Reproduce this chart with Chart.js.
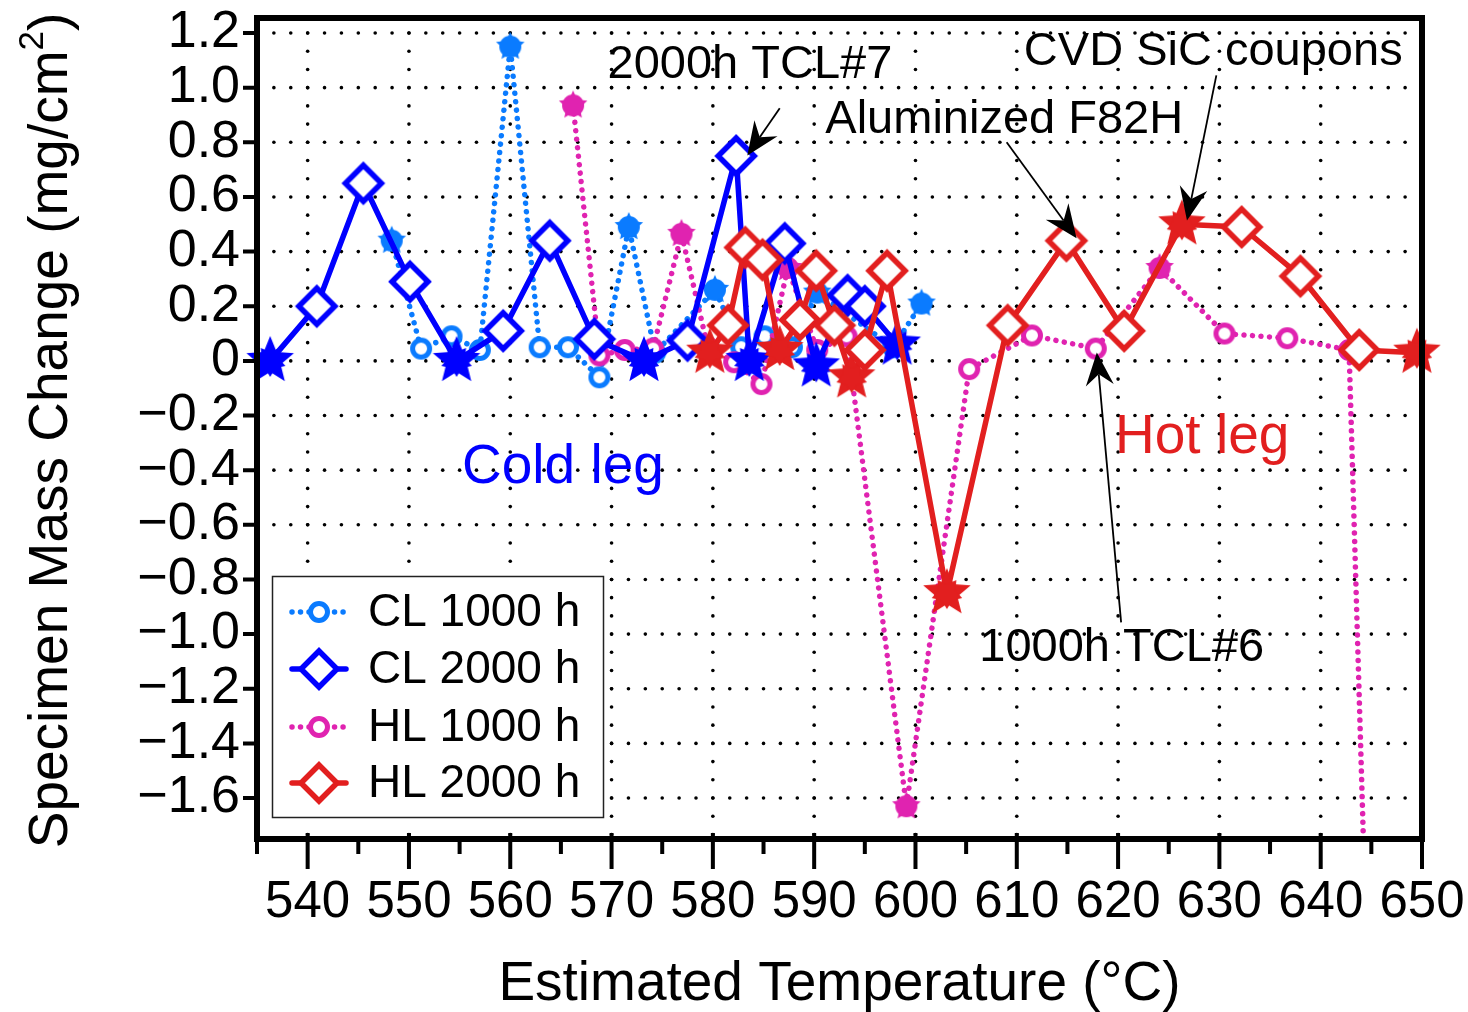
<!DOCTYPE html>
<html>
<head>
<meta charset="utf-8">
<title>Specimen Mass Change vs Estimated Temperature</title>
<script src="https://cdn.jsdelivr.net/npm/chart.js@4/dist/chart.umd.min.js"></script>
<style>
  html, body { margin: 0; padding: 0; background: #fff; }
  canvas { display: block; }
</style>
</head>
<body>
<canvas id="chart" width="1468" height="1012"></canvas>
<script>
// ---- Data: estimated temperature (°C) and specimen mass change (mg/cm²) ----
const cl1000Temp  = [548.3, 551.2, 554.2, 557.0, 560.0, 562.9, 565.7, 568.8, 571.7, 574.3, 580.2, 582.8, 585.1, 587.8, 590.3, 597.8, 600.6];
const cl1000Value = [0.44, 0.045, 0.09, 0.04, 1.15, 0.05, 0.05, -0.06, 0.49, 0.03, 0.26, 0.05, 0.09, 0.05, 0.25, 0.05, 0.21];
const cl1000Kind  = ['dot','ring','ring','ring','dot','ring','ring','ring','dot','ring','dot','ring','ring','ring','dot','ring','dot'];

const cl2000Temp  = [536.3, 540.9, 545.5, 550.1, 554.7, 559.3, 563.9, 568.3, 573.2, 577.5, 582.3, 583.6, 587.1, 590.2, 593.3, 595.0, 598.2];
const cl2000Value = [0.0, 0.20, 0.65, 0.29, 0.0, 0.11, 0.44, 0.08, 0.0, 0.075, 0.75, 0.0, 0.43, -0.02, 0.24, 0.20, 0.06];
const cl2000Kind  = ['star','diamond','diamond','diamond','star','diamond','diamond','diamond','star','diamond','diamond','star','diamond','star','diamond','diamond','star'];

const hl1000Temp  = [566.2, 568.8, 571.3, 574.1, 576.9, 579.5, 582.1, 584.8, 587.4, 590.3, 593.2, 599.1, 605.3, 611.5, 617.8, 624.1, 630.5, 636.7, 642.8, 645.2];
const hl1000Value = [0.935, 0.02, 0.04, 0.045, 0.465, 0.05, -0.005, -0.085, 0.34, 0.04, 0.09, -1.63, -0.03, 0.093, 0.045, 0.34, 0.10, 0.083, 0.04, -3.0];
const hl1000Kind  = ['dot','ring','ring','ring','dot','ring','ring','ring','dot','ring','ring','dot','ring','ring','ring','dot','ring','ring','ring','ring'];

const hl2000Temp  = [579.7, 581.5, 583.2, 584.9, 586.6, 588.6, 590.2, 592.0, 593.7, 595.0, 597.2, 603.1, 609.1, 614.9, 620.6, 626.3, 632.2, 638.0, 643.8, 649.5];
const hl2000Value = [0.03, 0.13, 0.415, 0.37, 0.04, 0.15, 0.33, 0.13, -0.06, 0.04, 0.33, -0.85, 0.13, 0.44, 0.11, 0.50, 0.49, 0.31, 0.04, 0.03];
const hl2000Kind  = ['star','diamond','diamond','diamond','star','diamond','diamond','diamond','star','diamond','diamond','star','diamond','diamond','diamond','star','diamond','diamond','diamond','star'];

const seriesNames = ['CL 1000 h', 'CL 2000 h', 'HL 1000 h', 'HL 2000 h'];

// ---- Axis ticks ----
const xTickValues = [540, 550, 560, 570, 580, 590, 600, 610, 620, 630, 640, 650];
const xMinorTickValues = [535, 545, 555, 565, 575, 585, 595, 605, 615, 625, 635, 645];
const yTickValues = [-1.6, -1.4, -1.2, -1.0, -0.8, -0.6, -0.4, -0.2, 0, 0.2, 0.4, 0.6, 0.8, 1.0, 1.2];

// ---- Notes placed in data units (temperature, mass change) ----
const noteTexts = [
  { text: '2000h TCL#7',      at: [569.6, 1.082], align: 'left',   color: '#000', size: 47 },
  { text: 'Aluminized F82H',  at: [591.1, 0.880], align: 'left',   color: '#000', size: 47 },
  { text: 'CVD SiC coupons',  at: [610.7, 1.129], align: 'left',   color: '#000', size: 47 },
  { text: '1000h TCL#6',      at: [606.3, -1.052], align: 'left',  color: '#000', size: 47 },
  { text: 'Cold leg',         at: [565.2, -0.39], align: 'center', color: '#0000ff', size: 55 },
  { text: 'Hot leg',          at: [628.3, -0.28], align: 'center', color: '#e21f1f', size: 55 }
];
const noteArrows = [
  { from: [586.6, 0.925], to: [583.4, 0.752] },
  { from: [609.0, 0.800], to: [615.9, 0.449] },
  { from: [629.7, 1.045], to: [626.8, 0.514] },
  { from: [620.3, -0.957], to: [617.9, 0.031] }
];

// ---- Styling ----
const FONT = '"Liberation Sans", Arial, Helvetica, sans-serif';
const COLORS = { cl1000: '#0a7bff', cl2000: '#0000ff', hl1000: '#e023b0', hl2000: '#e21f1f' };

function makeCanvas(size, draw) {
  const c = document.createElement('canvas');
  c.width = size; c.height = size;
  const g = c.getContext('2d');
  g.translate(size / 2, size / 2);
  draw(g);
  return c;
}
function starPath(g, n, R, r, rot) {
  g.beginPath();
  for (let i = 0; i < 2 * n; i++) {
    const a = rot + i * Math.PI / n - Math.PI / 2;
    const rad = (i % 2) ? r : R;
    g.lineTo(Math.cos(a) * rad, Math.sin(a) * rad);
  }
  g.closePath();
}
const markerMakers = {
  ring: col => makeCanvas(28, g => {
    g.beginPath(); g.arc(0, 0, 8.5, 0, 2 * Math.PI);
    g.fillStyle = '#fff'; g.fill();
    g.lineWidth = 5; g.strokeStyle = col; g.stroke();
  }),
  diamond: col => makeCanvas(50, g => {
    g.beginPath(); g.moveTo(0, -18); g.lineTo(18, 0); g.lineTo(0, 18); g.lineTo(-18, 0); g.closePath();
    g.fillStyle = '#fff'; g.fill();
    g.lineWidth = 5.5; g.lineJoin = 'miter'; g.strokeStyle = col; g.stroke();
  }),
  dot: col => makeCanvas(36, g => {
    g.fillStyle = col;
    starPath(g, 5, 15, 7, 0); g.fill();
    g.beginPath(); g.arc(0, 0, 11, 0, 2 * Math.PI); g.fill();
  }),
  star: col => makeCanvas(60, g => {
    g.fillStyle = col;
    starPath(g, 5, 25, 11, 0); g.fill();
    starPath(g, 5, 16, 9, Math.PI / 5); g.fill();
  })
};
const markerCache = {};
function marker(kind, col) {
  const key = kind + col;
  if (!markerCache[key]) markerCache[key] = markerMakers[kind](col);
  return markerCache[key];
}
function points(temps, values) { return temps.map((t, i) => ({ x: t, y: values[i] })); }

const DOTTED = { borderDash: [0.01, 8.5], borderCapStyle: 'round', borderWidth: 5.5 };
const SOLID = { borderDash: [], borderCapStyle: 'round', borderWidth: 5.5 };

const datasets = [
  Object.assign({ label: seriesNames[0], data: points(cl1000Temp, cl1000Value), borderColor: COLORS.cl1000,
    pointStyle: cl1000Kind.map(k => marker(k, COLORS.cl1000)), order: 4 }, DOTTED),
  Object.assign({ label: seriesNames[1], data: points(cl2000Temp, cl2000Value), borderColor: COLORS.cl2000,
    pointStyle: cl2000Kind.map(k => marker(k, COLORS.cl2000)), order: 2 }, SOLID),
  Object.assign({ label: seriesNames[2], data: points(hl1000Temp, hl1000Value), borderColor: COLORS.hl1000,
    pointStyle: hl1000Kind.map(k => marker(k, COLORS.hl1000)), order: 3 }, DOTTED),
  Object.assign({ label: seriesNames[3], data: points(hl2000Temp, hl2000Value), borderColor: COLORS.hl2000,
    pointStyle: hl2000Kind.map(k => marker(k, COLORS.hl2000)), order: 1 }, SOLID)
];
datasets.forEach(d => {
  d.showLine = true;
  d.tension = 0;
  d.pointRadius = 12;
  d.borderJoinStyle = 'round';
  d.clip = { left: 40, right: 40, top: 40, bottom: 0 };
});

// Y labels: one decimal and a true minus sign; zero is written as "0"
function fmtY(v) {
  if (Math.abs(v) < 1e-9) return '0';
  return (v < 0 ? '\u2212' : '') + Math.abs(v).toFixed(1);
}

// Dotted grid, frame, tick marks, notes, legend and axis titles
const decorations = {
  id: 'decorations',
  beforeDatasetsDraw(chart) {
    const { ctx, scales: { x, y } } = chart;
    ctx.save();
    ctx.fillStyle = '#000';
    const dot = (px, py) => { ctx.beginPath(); ctx.arc(px, py, 1.8, 0, 2 * Math.PI); ctx.fill(); };
    // horizontal dotted rows
    yTickValues.forEach(v => {
      const py = y.getPixelForValue(v);
      for (let k = -3; k <= 70; k++) {
        const t = 540 + k * 10 / 6;
        if (t <= x.min + 0.5 || t >= x.max - 0.5) continue;
        dot(x.getPixelForValue(t), py);
      }
    });
    // vertical dotted columns
    xTickValues.forEach(t => {
      if (t >= x.max) return;
      const px = x.getPixelForValue(t);
      for (let k = -30; k <= 30; k++) {
        const v = k * 0.2 / 3;
        if (v <= y.min + 0.01 || v >= y.max - 0.01) continue;
        dot(px, y.getPixelForValue(v));
      }
    });
    ctx.restore();
  },
  afterDatasetsDraw(chart) {
    const { ctx, chartArea: a, scales: { x, y } } = chart;
    ctx.save();
    // frame
    ctx.strokeStyle = '#000';
    ctx.lineWidth = 6;
    ctx.lineJoin = 'miter';
    ctx.strokeRect(a.left, a.top, a.right - a.left, a.bottom - a.top);
    // x tick marks
    ctx.lineWidth = 4;
    ctx.beginPath();
    xTickValues.forEach(t => {
      const px = x.getPixelForValue(t);
      ctx.moveTo(px, a.bottom - 6); ctx.lineTo(px, a.bottom + 30);
    });
    xMinorTickValues.forEach(t => {
      const px = x.getPixelForValue(t);
      ctx.moveTo(px, a.bottom); ctx.lineTo(px, a.bottom + 15);
    });
    // y tick marks
    yTickValues.forEach(v => {
      const py = y.getPixelForValue(v);
      ctx.moveTo(a.left - 14, py); ctx.lineTo(a.left, py);
    });
    ctx.stroke();

    // notes
    noteTexts.forEach(n => {
      ctx.font = n.size + 'px ' + FONT;
      ctx.fillStyle = n.color;
      ctx.textAlign = n.align;
      ctx.textBaseline = 'middle';
      ctx.fillText(n.text, x.getPixelForValue(n.at[0]), y.getPixelForValue(n.at[1]));
    });
    ctx.fillStyle = '#000';
    ctx.strokeStyle = '#000';
    noteArrows.forEach(ar => {
      const x0 = x.getPixelForValue(ar.from[0]), y0 = y.getPixelForValue(ar.from[1]);
      const x1 = x.getPixelForValue(ar.to[0]), y1 = y.getPixelForValue(ar.to[1]);
      const ang = Math.atan2(y1 - y0, x1 - x0);
      const ux = Math.cos(ang), uy = Math.sin(ang);
      const L = 33, W = 14, N = 22;
      ctx.lineWidth = 1.8;
      ctx.beginPath(); ctx.moveTo(x0, y0); ctx.lineTo(x1 - ux * N, y1 - uy * N); ctx.stroke();
      ctx.beginPath();
      ctx.moveTo(x1, y1);
      ctx.lineTo(x1 - ux * L - uy * W, y1 - uy * L + ux * W);
      ctx.lineTo(x1 - ux * N, y1 - uy * N);
      ctx.lineTo(x1 - ux * L + uy * W, y1 - uy * L - ux * W);
      ctx.closePath();
      ctx.fill();
    });
    ctx.restore();
  },
  afterDraw(chart) {
    const { ctx, chartArea: a } = chart;
    ctx.save();
    // legend box
    const box = { l: 272.5, t: 576.5, w: 331, h: 241 };
    ctx.fillStyle = '#fff';
    ctx.fillRect(box.l, box.t, box.w, box.h);
    ctx.strokeStyle = '#222';
    ctx.lineWidth = 1.5;
    ctx.strokeRect(box.l, box.t, box.w, box.h);
    const rows = [612, 669, 727, 783];
    const legendKinds = ['ring', 'diamond', 'ring', 'diamond'];
    chart.data.datasets.forEach((ds, r) => {
      const yy = rows[r];
      ctx.save();
      ctx.strokeStyle = ds.borderColor;
      ctx.lineWidth = ds.borderWidth;
      ctx.lineCap = ds.borderCapStyle;
      ctx.setLineDash(ds.borderDash);
      ctx.beginPath(); ctx.moveTo(292, yy); ctx.lineTo(346, yy); ctx.stroke();
      ctx.restore();
      const m = marker(legendKinds[r], ds.borderColor);
      ctx.drawImage(m, 319 - m.width / 2, yy - m.height / 2);
      ctx.fillStyle = '#000';
      ctx.font = '46px ' + FONT;
      ctx.textAlign = 'left';
      ctx.textBaseline = 'middle';
      ctx.fillText(ds.label, 368, yy + 1);
    });

    // axis titles
    ctx.fillStyle = '#000';
    ctx.font = '55px ' + FONT;
    ctx.textAlign = 'center';
    ctx.textBaseline = 'middle';
    ctx.fillText('Estimated Temperature (\u00B0C)', (a.left + a.right) / 2, 985);

    ctx.save();
    ctx.translate(52, (a.top + a.bottom) / 2 + 2);
    ctx.rotate(-Math.PI / 2);
    const main = 'Specimen Mass Change (mg/cm';
    ctx.font = '55px ' + FONT;
    const w1 = ctx.measureText(main).width;
    const w3 = ctx.measureText(')').width;
    ctx.font = '35px ' + FONT;
    const w2 = ctx.measureText('2').width;
    const sx = -(w1 + w2 + w3) / 2;
    ctx.textAlign = 'left';
    ctx.font = '55px ' + FONT;
    ctx.fillText(main, sx, 0);
    ctx.font = '35px ' + FONT;
    ctx.fillText('2', sx + w1, -19);
    ctx.font = '55px ' + FONT;
    ctx.fillText(')', sx + w1 + w2, 0);
    ctx.restore();
    ctx.restore();
  }
};

new Chart(document.getElementById('chart'), {
  type: 'scatter',
  data: { datasets },
  options: {
    responsive: false,
    animation: false,
    events: [],
    layout: { padding: { left: 0, top: 18, right: 46, bottom: 0 } },
    plugins: { legend: { display: false }, tooltip: { enabled: false } },
    scales: {
      x: {
        type: 'linear', position: 'bottom', min: 535, max: 650,
        grid: { display: false, drawTicks: false },
        border: { display: false },
        afterBuildTicks: s => { s.ticks = xTickValues.map(v => ({ value: v })); },
        afterFit: s => { s.height = 173; s.paddingLeft = 0; s.paddingRight = 0; },
        ticks: { color: '#000', font: { size: 51, family: FONT }, padding: 33, maxRotation: 0, autoSkip: false,
                 callback: v => String(v) }
      },
      y: {
        type: 'linear', position: 'left', min: -1.75, max: 1.255,
        grid: { display: false, drawTicks: false },
        border: { display: false },
        afterBuildTicks: s => { s.ticks = yTickValues.map(v => ({ value: v })); },
        afterFit: s => { s.width = 257; s.paddingTop = 0; s.paddingBottom = 0; },
        ticks: { color: '#000', font: { size: 52, family: FONT }, padding: 17, autoSkip: false,
                 callback: v => fmtY(v) }
      }
    }
  },
  plugins: [decorations]
});
</script>
</body>
</html>
